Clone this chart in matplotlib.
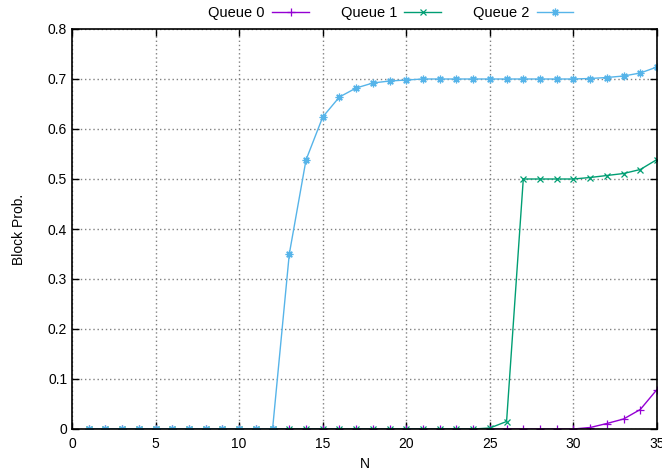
import numpy as np
import matplotlib
matplotlib.use("Agg")
import matplotlib.pyplot as plt

plt.rcParams['font.family'] = ['Liberation Sans', 'DejaVu Sans']

N = list(range(1, 36))

# Queue 0: zero until N=30, then small rise
queue0 = [0.0] * 30 + [0.003, 0.011, 0.020, 0.039, 0.079]
# Queue 1
queue1 = [0.0] * 24 + [0.002, 0.015, 0.500, 0.500, 0.500, 0.500,
                       0.503, 0.507, 0.511, 0.519, 0.539]
# Queue 2
queue2 = [0.0] * 12 + [0.350, 0.538, 0.624, 0.664, 0.682, 0.692, 0.696, 0.698,
                       0.700, 0.700, 0.700, 0.700, 0.700, 0.700, 0.700, 0.700,
                       0.700, 0.700, 0.701, 0.703, 0.706, 0.712, 0.724]

labels = ['Queue 0', 'Queue 1', 'Queue 2']
colors = ['#9400D3', '#009E73', '#56B4E9']

fig = plt.figure(figsize=(6.62, 4.74), dpi=100)
ax = fig.add_axes([72/662, 1-429/474, (657-72)/662, (429-29)/474])

ax.plot(N, queue0, color=colors[0], lw=1, marker='+', ms=6, mew=0.9, label=labels[0])
ax.plot(N, queue1, color=colors[1], lw=1, marker='x', ms=4.5, mew=0.9, label=labels[1])
ax.plot(N, queue2, color=colors[2], lw=1, marker=(8, 2, 0), ms=5.5, mew=0.9, label=labels[2])

ax.set_xlim(0, 35)
ax.set_ylim(0, 0.8)
ax.set_xticks(range(0, 36, 5))
ax.set_yticks(np.arange(0, 0.81, 0.1))
ax.set_yticklabels(['0', '0.1', '0.2', '0.3', '0.4', '0.5', '0.6', '0.7', '0.8'])
ax.tick_params(direction='in', top=True, right=True, length=5, labelsize=10, width=1)
ax.tick_params(axis='x', pad=6)
ax.grid(True, color='#808080', linestyle=(0, (1, 2)), lw=1)
for s in ax.spines.values():
    s.set_linewidth(1.2)

ax.set_xlabel('N', fontsize=10, labelpad=4)
ax.set_ylabel('Block Prob.', fontsize=10, labelpad=16)

ax.legend(loc='lower center', bbox_to_anchor=(0.545, 1.0), ncol=3, frameon=False,
          markerfirst=False, fontsize=10.5, handlelength=2.5, columnspacing=2.2,
          borderaxespad=0.2, handletextpad=0.5)

fig.savefig('out.png', dpi=100)
